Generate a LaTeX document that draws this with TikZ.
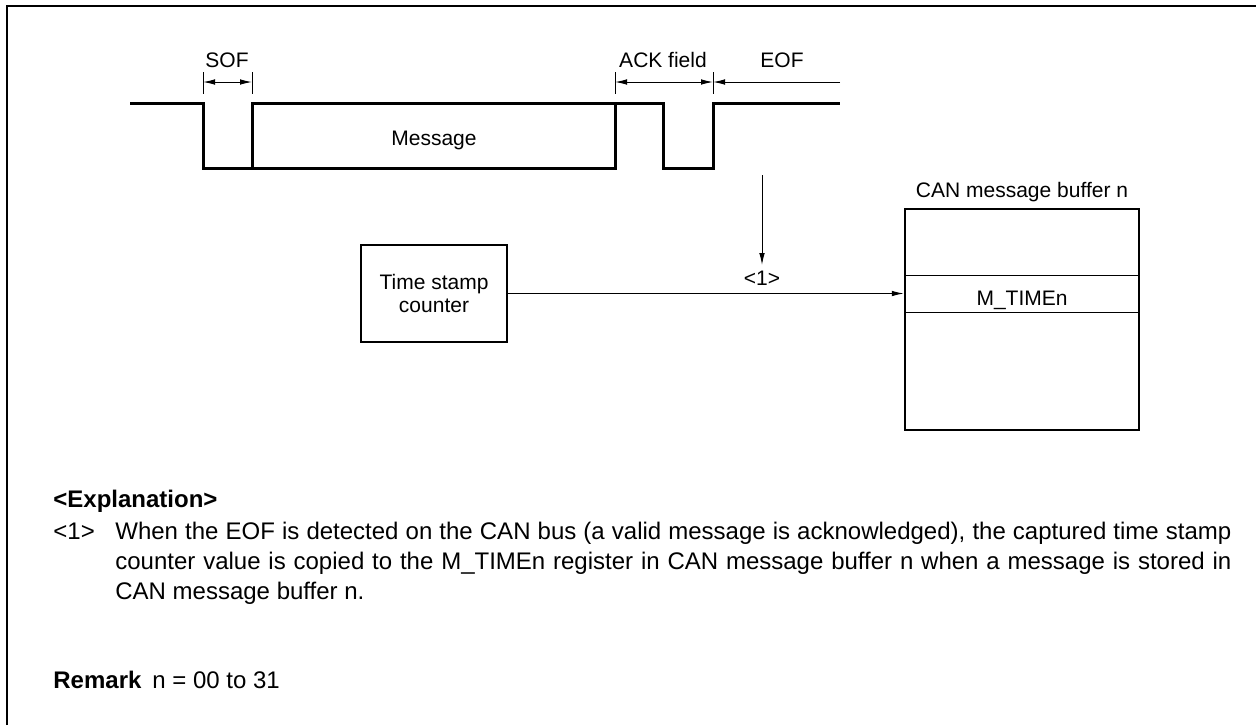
\documentclass[tikz,border=0pt]{standalone}
\usepackage{fontspec}
\setmainfont{Liberation Sans}
\usetikzlibrary{arrows.meta}

\tikzset{
  sig/.style={line width=1.5pt, line join=miter},
  box/.style={draw, line width=1.2pt, inner sep=0pt},
  dim/.style={line width=0.5pt},
  tip/.tip={Latex[length=6pt,width=2.8pt]},
  arr/.style={line width=0.5pt, -tip},
  lbl/.style={font=\fontsize{10.5}{11.5}\selectfont, inner sep=0pt},
  para/.style={font=\fontsize{12}{15}\selectfont, inner sep=0pt},
  bold/.style={font=\fontsize{12}{15}\selectfont\bfseries, inner sep=0pt},
}

\begin{document}
\begin{tikzpicture}[x=0.5pt, y=-0.5pt]
    % Frame
    \useasboundingbox (0,0) rectangle (1256,725);
    \draw[line width=1.2pt] (7,725) -- (7,6) -- (1256,6);

    % Bus signal
    \draw[sig] (130,103) -- (203,103) -- (203,168) -- (615,168) -- (615,103) -- (663,103)
        -- (663,168) -- (713,168) -- (713,103) -- (840,103);
    \draw[sig] (252,168) -- (252,103) -- (615,103);
    \node[lbl, anchor=base] (msg) at (434,145) {Message};

    % Field marks
    \foreach \x in {203,252,615,713} \draw[dim] (\x,72) -- (\x,94);
    \draw[dim, tip-tip] (203,82) -- (252,82);
    \draw[dim, tip-tip] (615,82) -- (713,82);
    \draw[dim, -tip] (840,82) -- (713,82);
    \node[lbl, anchor=base] (sof) at (227,67) {SOF};
    \node[lbl, anchor=base] (ack) at (663,67) {ACK field};
    \node[lbl, anchor=base] (eof) at (782,67) {EOF};

    % Time stamp counter and buffer
    \node[box, lbl, minimum width=73pt, minimum height=48.5pt, align=center] (tsc) at (434,293.5) {Time stamp\\counter};
    \node[box, minimum width=117pt, minimum height=110.5pt] (buf) at (1022,319.5) {};
    \draw[dim] (905,275) -- (1139,275);
    \draw[dim] (905,312) -- (1139,312);
    \node[lbl, anchor=base] (mtime) at (1022,305) {M\_TIMEn};
    \node[lbl, anchor=base] (buftitle) at (1022,197) {CAN message buffer n};

    % Capture
    \coordinate (cap) at (762,175);
    \coordinate (capend) at (762,265);
    \draw[arr] (cap) -- (capend);
    \node[lbl, anchor=base] (one) at (762,285) {<1>};
    \draw[arr] (tsc.east) -- (tsc.east -| buf.west);

    % Explanation
    \node[bold, anchor=base west] (expl) at (53,507) {<Explanation>};
    \node[para, anchor=base west] (num) at (53,539) {<1>};
    \node[para, anchor=base west] (l1) at (115,539) {\makebox[558pt][s]{When the EOF is detected on the CAN bus (a valid message is acknowledged), the captured time stamp}};
    \node[para, anchor=base west] (l2) at (115,569) {\makebox[558pt][s]{counter value is copied to the M\_TIMEn register in CAN message buffer n when a message is stored in}};
    \node[para, anchor=base west] (l3) at (115,599) {CAN message buffer n.};

    % Remark
    \node[bold, anchor=base west] (rem) at (53,688) {Remark};
    \node[para, anchor=base west] (remtext) at (152,688) {n = 00 to 31};
\end{tikzpicture}
\end{document}
